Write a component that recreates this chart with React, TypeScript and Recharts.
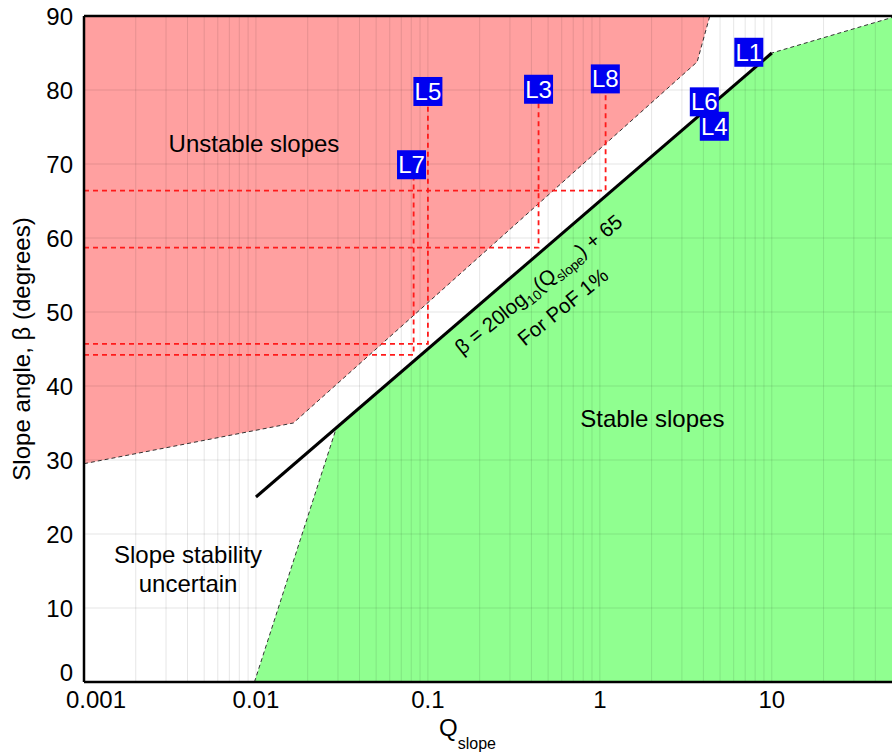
import React from 'react';
import { ComposedChart, Area, Line, Scatter, XAxis, YAxis, ReferenceLine, Label } from 'recharts';

const FONT = '"Liberation Sans", Arial, Helvetica, sans-serif';

// axis ticks
const xTicks = [0.001, 0.01, 0.1, 1, 10];
const yTicks = [0, 10, 20, 30, 40, 50, 60, 70, 80, 90];

// grid lines (log minor grid)
const xGridLines = [
  0.002, 0.003, 0.004, 0.005, 0.006, 0.007, 0.008, 0.009,
  0.01, 0.02, 0.03, 0.04, 0.05, 0.06, 0.07, 0.08, 0.09,
  0.1, 0.2, 0.3, 0.4, 0.5, 0.6, 0.7, 0.8, 0.9,
  1, 2, 3, 4, 5, 6, 7, 8, 9,
  10, 20, 30, 40,
];
const yGridLines = [10, 20, 30, 40, 50, 60, 70, 80];

// region boundaries
const unstableBoundary = [
  { q: 0.001, b: 29.5 },
  { q: 0.0165, b: 35 },
  { q: 3.68, b: 83.8 },
  { q: 4.36, b: 90 },
];
const stableBoundary = [
  { q: 0.0098, b: 0 },
  { q: 0.0294, b: 34.4 },
  { q: 10, b: 85 },
  { q: 50, b: 89.8 },
];
// beta = 20 log10(Q) + 65 endpoints
const pofLine = [
  { q: 0.01, b: 25 },
  { q: 10, b: 85 },
];

// case guide lines
const caseNames = ['L5', 'L7', 'L3', 'L8'];
const caseQ = [0.1, 0.0826, 0.44, 1.08];
const caseBeta = [45.7, 44.2, 58.7, 66.4];
const caseTopBeta = [79.8, 69.9, 80.1, 81.5];

// case labels
const labelNames = ['L5', 'L7', 'L3', 'L8', 'L1', 'L6', 'L4'];
const labelQ = [0.1, 0.0803, 0.44, 1.076, 7.35, 4.05, 4.63];
const labelBeta = [79.8, 69.9, 80.1, 81.5, 85.1, 78.4, 75.1];

// text annotations
const noteKeys = ['unstable', 'stable', 'uncertain1', 'uncertain2', 'formula', 'pof'];
const noteTexts = ['Unstable slopes', 'Stable slopes', 'Slope stability', 'uncertain', '', 'For PoF 1%'];
const noteQ = [0.00974, 2.02, 0.00403, 0.00403, 0.467, 0.647];
const noteBeta = [71.66, 34.5, 16.08, 12.2, 52.97, 49.96];
const noteAngle = [0, 0, 0, 0, -39, -39];

const guideSeries = caseNames.map((name, i) => ({
  name,
  data: [
    { q: 0.001, b: caseBeta[i] },
    { q: caseQ[i], b: caseBeta[i] },
    { q: caseQ[i], b: caseTopBeta[i] },
  ],
}));

const labelData = labelNames.map((name, i) => ({ name, q: labelQ[i], b: labelBeta[i] }));
const noteData = noteKeys.map((key, i) => ({
  key,
  text: noteTexts[i],
  q: noteQ[i],
  b: noteBeta[i],
  angle: noteAngle[i],
}));

const LabelBox = (p: any) => {
  const { cx, cy, payload } = p;
  if (cx == null || cy == null) return null;
  return (
    <g>
      <rect x={cx - 14.5} y={cy - 14.5} width={29} height={29} fill="#0000f0" />
      <text
        x={cx}
        y={cy + 8.5}
        textAnchor="middle"
        fill="#ffffff"
        fontSize={24}
        fontFamily={FONT}
      >
        {payload.name}
      </text>
    </g>
  );
};

const NoteText = (p: any) => {
  const { cx, cy, payload } = p;
  if (cx == null || cy == null) return null;
  const transform = payload.angle ? `rotate(${payload.angle} ${cx} ${cy})` : undefined;
  if (payload.key === 'formula') {
    return (
      <text
        x={cx}
        y={cy}
        textAnchor="middle"
        fill="#000"
        fontSize={20.5}
        fontFamily={FONT}
        transform={transform}
      >
        β = 20log
        <tspan fontSize={13.5} dy={5}>10</tspan>
        <tspan dy={-5}>(Q</tspan>
        <tspan fontSize={13.5} dy={5}>slope</tspan>
        <tspan dy={-5}>) + 65</tspan>
      </text>
    );
  }
  return (
    <text
      x={cx}
      y={cy}
      textAnchor="middle"
      fill="#000"
      fontSize={payload.angle ? 20.5 : 24}
      fontFamily={FONT}
      transform={transform}
    >
      {payload.text}
    </text>
  );
};

const XTick = (p: any) => {
  const { x, y, payload } = p;
  const shift = payload.value === xTicks[0] ? 12 : 0;
  return (
    <text
      x={x + shift}
      y={y}
      dy="0.71em"
      textAnchor="middle"
      fill="#000"
      fontSize={24}
      fontFamily={FONT}
    >
      {String(payload.value)}
    </text>
  );
};

const YTick = (p: any) => {
  const { x, y, payload } = p;
  const shift = payload.value === yTicks[0] ? -10 : 0;
  return (
    <text
      x={x}
      y={y + shift}
      dy="0.355em"
      textAnchor="end"
      fill="#000"
      fontSize={24}
      fontFamily={FONT}
    >
      {String(payload.value)}
    </text>
  );
};

const XTitle = (p: any) => {
  const vb = p.viewBox || { x: 84, y: 682, width: 808, height: 70 };
  const cx = vb.x + vb.width / 2;
  return (
    <text x={cx - 49} y={vb.y + 54} fill="#000" fontSize={24} fontFamily={FONT}>
      Q
      <tspan fontSize={16} dy={13}>slope</tspan>
    </text>
  );
};

const YTitle = (p: any) => {
  const vb = p.viewBox || { x: 0, y: 16, width: 84, height: 666 };
  const x = vb.x + 30;
  const y = vb.y + vb.height / 2;
  return (
    <text
      x={x}
      y={y}
      textAnchor="middle"
      fill="#000"
      fontSize={24}
      fontFamily={FONT}
      transform={`rotate(-90 ${x} ${y})`}
    >
      Slope angle, β (degrees)
    </text>
  );
};

export default function App() {
  return (
    <div style={{ position: 'absolute', left: 0, top: 0, width: 892, height: 752, background: '#fff' }}>
      <ComposedChart
        width={892}
        height={752}
        margin={{ top: 16, right: 0, bottom: 0, left: 0 }}
      >
        <XAxis
          dataKey="q"
          type="number"
          scale="log"
          domain={[0.001, 50]}
          allowDataOverflow
          ticks={xTicks}
          tick={<XTick />}
          tickLine={false}
          tickMargin={3}
          height={70}
          axisLine={{ stroke: '#000', strokeWidth: 2.5 }}
        >
          <Label content={<XTitle />} />
        </XAxis>
        <YAxis
          dataKey="b"
          type="number"
          domain={[0, 90]}
          allowDataOverflow
          ticks={yTicks}
          tickLine={false}
          tickMargin={5}
          width={84}
          tick={<YTick />}
          axisLine={{ stroke: '#000', strokeWidth: 2.5 }}
        >
          <Label content={<YTitle />} />
        </YAxis>

        <Area
          data={unstableBoundary}
          dataKey="b"
          type="linear"
          baseValue={90}
          fill="#ffa0a0"
          fillOpacity={1}
          stroke="#333"
          strokeWidth={1}
          strokeDasharray="4 3"
          dot={false}
          activeDot={false}
          isAnimationActive={false}
        />
        <Area
          data={stableBoundary}
          dataKey="b"
          type="linear"
          baseValue={0}
          fill="#90ff90"
          fillOpacity={1}
          stroke="#333"
          strokeWidth={1}
          strokeDasharray="4 3"
          dot={false}
          activeDot={false}
          isAnimationActive={false}
        />

        {xGridLines.map((v) => (
          <ReferenceLine key={'gx' + v} x={v} stroke="rgba(0,0,0,0.1)" strokeWidth={1} />
        ))}
        {yGridLines.map((v) => (
          <ReferenceLine key={'gy' + v} y={v} stroke="rgba(0,0,0,0.1)" strokeWidth={1} />
        ))}
        <ReferenceLine y={90} stroke="#000" strokeWidth={2.5} />

        {guideSeries.map((s) => (
          <Line
            key={s.name}
            data={s.data}
            dataKey="b"
            type="linear"
            stroke="#ff1a1a"
            strokeWidth={1.8}
            strokeDasharray="5 4"
            dot={false}
            activeDot={false}
            isAnimationActive={false}
          />
        ))}

        <Line
          data={pofLine}
          dataKey="b"
          type="linear"
          stroke="#000"
          strokeWidth={3}
          dot={false}
          activeDot={false}
          isAnimationActive={false}
        />

        <Scatter data={noteData} shape={<NoteText />} isAnimationActive={false} />
        <Scatter data={labelData} shape={<LabelBox />} isAnimationActive={false} />
      </ComposedChart>
    </div>
  );
}
